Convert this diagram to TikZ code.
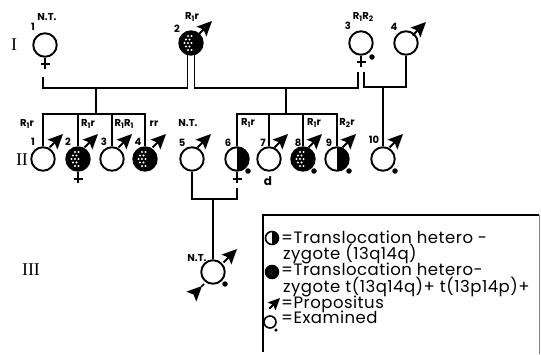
\documentclass[tikz,border=0pt]{standalone}
\usepackage{fontspec}
\setmainfont{Poppins}
\newfontfamily\romfont{Liberation Serif}
\newfontfamily\keyfont{Poppins}[LetterSpace=3]
\usetikzlibrary{calc}

% small subscript for genotype labels
\newcommand\sbs[1]{\raisebox{-0.45ex}{\fontsize{7.5}{7.5}\selectfont #1}}

\begin{document}
\begin{tikzpicture}[x=1pt,y=-1pt,
  person/.style={circle,draw,line width=1.9pt,minimum size=23.5pt,inner sep=0pt},
  half/.style={person,path picture={\fill (path picture bounding box.north) rectangle (path picture bounding box.south east);}},
  stip/.style={person,fill=black,path picture={
      \foreach \a/\b in {-3/-7,0.5/-7,-5/-3.5,-1.5/-3.5,-6.5/0,-3/0,0.5/0,
                          -5/3.5,-1.5/3.5,-3/7,0.5/7}
        \fill[white] ([shift={(\a,\b)}]path picture bounding box.center) circle (1.05pt);}},
  keystip/.style={circle,draw,line width=1.5pt,minimum size=13pt,inner sep=0pt,fill=black,path picture={
      \foreach \a/\b in {-3/-2,-1/-3,-2/0,0/-1,-3/2,-1/1,0/3}
        \fill[gray] ([shift={(\a,\b)}]path picture bounding box.center) circle (0.5pt);}},
  line/.style={line width=1.4pt},
  sexmark/.style={line width=1.8pt},
  lab/.style={font=\bfseries\fontsize{10}{10}\selectfont,inner sep=0pt},
  gen/.style={font=\romfont\fontsize{18}{18}\selectfont,inner sep=0pt},
  exdot/.style={circle,fill,minimum size=5.5pt,inner sep=0pt},
  keytext/.style={font=\keyfont\fontsize{16.5}{16.5}\selectfont,inner sep=0pt,anchor=base west},
  dart/.pic={\fill (0,0) -- (-15,7) -- (-12,0) -- (-15,-7) -- cycle;
             \draw[line width=1.8pt] (-11,0) -- (-19,0);},
  headdart/.pic={\fill (0,0) -- (-15,7) -- (-12,0) -- (-15,-7) -- cycle;
             \draw[line width=1.6pt] (-1,0) -- (3,0);}
]
\useasboundingbox (0,0) rectangle (541,354);

% generation numbers
\node[gen] (g1) at (14,45) {I};
\node[gen] (g2) at (22,160) {II};
\node[gen] (g3) at (31,270) {III};

% ---------- generation I ----------
\node[person] (i1) at (45,45) {};
\node[stip]   (i2) at (191,43) {};
\node[person] (i3) at (361,43) {};
\node[person] (i4) at (406,43) {};

\node[lab] (i1n) at (33,27) {1};
\node[lab] (i1t) at (47,17) {N.T.};
\node[lab] (i2n) at (177,29) {2};
\node[lab] (i2g) at (192,17) {R\sbs{1}r};
\node[lab] (i3n) at (348,26) {3};
\node[lab] (i3g) at (363,17) {R\sbs{1}R\sbs{2}};
\node[lab] (i4n) at (394,27) {4};

\draw[sexmark] (i1.south) -- ++(0,11) ($(i1.south)+(-4.5,6)$) -- ++(9,0);
\draw[sexmark] (i3.south) -- ++(0,11) ($(i3.south)+(-4.5,6)$) -- ++(9,0);
\node[exdot] (i3d) at (372,57) {};
\pic[rotate=45] at (212,21) {dart};
\pic[rotate=45] at (426,22) {dart};

% matings
\coordinate (m1a) at (43,77);
\coordinate (m1b) at (43,88);
\coordinate (m1c) at (187.5,88);
\coordinate (m2a) at (194.5,88);
\coordinate (m2b) at (358,88);
\coordinate (m2c) at (358,72);
\coordinate (m3a) at (364,72);
\coordinate (m3b) at (364,87);
\coordinate (m3c) at (406,87);
\draw[line] (m1a) -- (m1b) -- (m1c) -- ($(i2.center)+(-3.5,10.5)$);
\draw[line] ($(i2.center)+(3.5,10.5)$) -- (m2a) -- (m2b) -- (m2c);
\draw[line] (m3a) -- (m3b) -- (m3c) -- (i4.south);

% sibships
\coordinate (s1t) at (96,88);
\coordinate (s1b) at (96,114);
\coordinate (s2t) at (286,88);
\coordinate (s2b) at (286,114);
\coordinate (s3t) at (383,87);

% ---------- generation II ----------
\node[person] (c1)  at (43,159) {};
\node[stip]   (c2)  at (78,159) {};
\node[person] (c3)  at (112,159) {};
\node[stip]   (c4)  at (145,159) {};
\node[person] (c5)  at (192,159) {};
\node[half]   (c6)  at (237,159) {};
\node[person] (c7)  at (269,159) {};
\node[stip]   (c8)  at (303,159) {};
\node[half]   (c9)  at (337,159) {};
\node[person] (c10) at (383,159) {};

\draw[line] (s1t) -- (s1b);
\draw[line] (c1.north) |- (s1b) -| (c4.north);
\draw[line] (c2.north) -- (c2.north |- s1b);
\draw[line] (c3.north) -- (c3.north |- s1b);
\draw[line] (s2t) -- (s2b);
\draw[line] (c6.north) |- (s2b) -| (c9.north);
\draw[line] (c7.north) -- (c7.north |- s2b);
\draw[line] (c8.north) -- (c8.north |- s2b);
\draw[line] (s3t) -- (c10.north);

% labels
\node[lab] (c1g) at (27,124) {R\sbs{1}r};
\node[lab] (c1n) at (33,142) {1};
\node[lab] (c2n) at (68,142) {2};
\node[lab] (c2g) at (88,124) {R\sbs{1}r};
\node[lab] (c3n) at (104,142) {3};
\node[lab] (c3g) at (124,124) {R\sbs{1}R\sbs{1}};
\node[lab] (c4n) at (138,142) {4};
\node[lab] (c4g) at (154,124) {rr};
\node[lab] (c5n) at (182,143) {5};
\node[lab] (c5t) at (188,123) {N.T.};
\node[lab] (c6n) at (228,143) {6};
\node[lab] (c6g) at (248,123) {R\sbs{1}r};
\node[lab] (c7n) at (263,143) {7};
\node[lab] (c8n) at (298,143) {8};
\node[lab] (c8g) at (314,123) {R\sbs{1}r};
\node[lab] (c9n) at (329,143) {9};
\node[lab] (c9g) at (347,123) {R\sbs{2}r};
\node[lab] (c10n) at (374,140) {10};
\node[font=\bfseries\fontsize{12}{12}\selectfont,inner sep=0pt] (c7s) at (268,181) {d};

% sex and examination marks
\draw[sexmark] (c2.south) -- ++(0,11) ($(c2.south)+(-4.5,7)$) -- ++(9,0);
\draw[sexmark] (c6.south) -- ++(0,11) ($(c6.south)+(-4.5,7)$) -- ++(9,0);
\node[exdot] (c6d)  at (248,171) {};
\node[exdot] (c8d)  at (314,171) {};
\node[exdot] (c9d)  at (349,171) {};
\node[exdot] (c10d) at (395,171) {};

% propositus darts
\foreach \x in {63,98,132,166,211,288,322,356,403}
  \pic[rotate=45] at (\x,134) {dart};

% ---------- generation III ----------
\node[person] (d1) at (213,272) {};
\coordinate (m4a) at (237,188);
\coordinate (m4b) at (237,199);
\coordinate (m4c) at (213,199);
\draw[line] (c5.south) |- (m4b) -- (m4a);
\draw[line] (m4c) -- (d1.north);
\node[lab] (d1t) at (197,258) {N.T.};
\node[exdot] (d1d) at (225,284) {};
\pic[rotate=45] at (237,249) {dart};
\pic[rotate=45] at (202,286) {headdart};

% ---------- key ----------
\draw[line width=1.6pt] (263,352) -- (263,215) -- (539,215);
\draw[gray,line width=1pt] (539,215) -- (539,354);
\node[half,minimum size=13pt,line width=1.6pt] (k1) at (272,238) {};
\node[keystip] (k2) at (272,272) {};
\pic[rotate=45,scale=0.8] at (280,298) {dart};
\node[person,minimum size=12pt,line width=1.6pt] (k4) at (270,322) {};
\node[exdot,minimum size=3.5pt] (k4d) at (276,330) {};

\node[keytext] (t1) at (281,243) {=Translocation hetero -};
\node[keytext] (t2) at (283,259) {zygote (13q14q)};
\node[keytext] (t3) at (281,275) {=Translocation hetero-};
\node[keytext] (t4) at (283,292) {zygote t(13q14q)+ t(13p14p)+};
\node[keytext] (t5) at (281,308) {=Propositus};
\node[keytext] (t6) at (281,323) {=Examined};
\end{tikzpicture}
\end{document}
